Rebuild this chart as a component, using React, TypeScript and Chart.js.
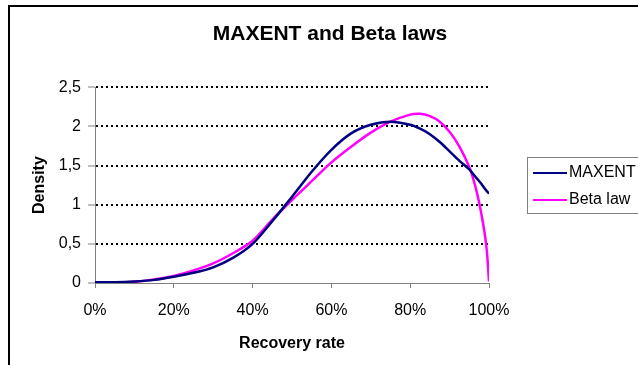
import React, { useEffect, useRef } from 'react';
import { Chart, registerables } from 'chart.js';

Chart.register(...registerables);

const chartTitle = 'MAXENT and Beta laws';
const xAxisTitle = 'Recovery rate';
const yAxisTitle = 'Density';
const seriesNames = ['MAXENT', 'Beta law'];
const seriesColors = ['#000080', '#FF00FF'];

const recoveryRate = [0, 0.05, 0.1, 0.15, 0.2, 0.25, 0.3, 0.35, 0.4, 0.45, 0.5, 0.55, 0.6, 0.65, 0.7, 0.75, 0.8, 0.825, 0.85, 0.875, 0.9, 0.925, 0.95, 0.96, 0.97, 0.98, 0.99, 0.995, 1];
const maxentDensity = [0.01, 0.01, 0.02, 0.04, 0.08, 0.13, 0.2, 0.32, 0.5, 0.79, 1.1, 1.42, 1.7, 1.91, 2.02, 2.06, 2.02, 1.97, 1.9, 1.8, 1.68, 1.56, 1.45, 1.39, 1.33, 1.27, 1.2, 1.17, 1.14];
const betaDensity = [0, 0.003, 0.015, 0.045, 0.09, 0.16, 0.25, 0.38, 0.54, 0.81, 1.06, 1.3, 1.54, 1.74, 1.92, 2.06, 2.15, 2.16, 2.13, 2.06, 1.93, 1.74, 1.48, 1.33, 1.14, 0.9, 0.6, 0.38, 0.02];

const xTickValues = [0, 0.2, 0.4, 0.6, 0.8, 1];
const xTickLabels = ['0%', '20%', '40%', '60%', '80%', '100%'];
const yTickValues = [0, 0.5, 1, 1.5, 2, 2.5];
const yTickLabels = ['0', '0,5', '1', '1,5', '2', '2,5'];

const FONT = '"Liberation Sans", Arial, sans-serif';

const boxLegend = {
  id: 'boxLegend',
  afterDraw(chart: any) {
    const ctx = chart.ctx;
    ctx.save();
    ctx.strokeStyle = '#808080';
    ctx.lineWidth = 1;
    ctx.strokeRect(527.5, 157.5, 140, 56);
    chart.data.datasets.forEach((ds: any, i: number) => {
      const y = 173 + i * 27;
      ctx.strokeStyle = ds.borderColor;
      ctx.lineWidth = 2;
      ctx.beginPath();
      ctx.moveTo(533, y);
      ctx.lineTo(567, y);
      ctx.stroke();
      ctx.fillStyle = '#000';
      ctx.font = `16px ${FONT}`;
      ctx.textAlign = 'left';
      ctx.textBaseline = 'middle';
      ctx.fillText(ds.label, 569, y);
    });
    ctx.restore();
  },
};

export default function App() {
  const canvasRef = useRef<HTMLCanvasElement | null>(null);

  useEffect(() => {
    if (!canvasRef.current) return;
    Chart.defaults.color = '#000';
    const series = [maxentDensity, betaDensity];
    const chart = new Chart(canvasRef.current, {
      type: 'line',
      data: {
        datasets: series.map((vals, si) => ({
          label: seriesNames[si],
          data: recoveryRate.map((x, i) => ({ x, y: vals[i] })),
          borderColor: seriesColors[si],
          backgroundColor: seriesColors[si],
          borderWidth: 2.5,
          pointRadius: 0,
          tension: 0.3,
          fill: false,
          yAxisID: 'y',
        })),
      },
      options: {
        responsive: false,
        animation: false,
        events: [],
        layout: { padding: { left: 0, right: 0, top: 0, bottom: 0 } },
        plugins: {
          legend: { display: false },
          tooltip: { enabled: false },
          title: {
            display: true,
            text: chartTitle,
            color: '#000',
            font: { family: FONT, size: 21, weight: 'bold', lineHeight: 1.2 },
            padding: { top: 22, bottom: 40 },
          },
        },
        scales: {
          x: {
            type: 'linear',
            min: 0,
            max: 1,
            afterBuildTicks: (s: any) => {
              s.ticks = xTickValues.map((v) => ({ value: v }));
            },
            afterFit: (s: any) => {
              s.height = 82;
            },
            ticks: {
              callback: (_v: any, i: number) => xTickLabels[i],
              color: '#000',
              font: { family: FONT, size: 16, lineHeight: 1.2 },
              padding: 13,
              maxRotation: 0,
              autoSkip: false,
            },
            grid: { drawOnChartArea: false, tickLength: 5, tickColor: '#808080', tickWidth: 1 },
            border: { color: '#808080', width: 1 },
            title: {
              display: true,
              text: xAxisTitle,
              color: '#000',
              font: { family: FONT, size: 16, weight: 'bold', lineHeight: 1.2 },
              padding: { top: 0, bottom: 12 },
            },
          },
          y: {
            type: 'linear',
            position: 'left',
            min: 0,
            max: 2.5,
            afterBuildTicks: (s: any) => {
              s.ticks = yTickValues.map((v) => ({ value: v }));
            },
            afterFit: (s: any) => {
              s.width = 95;
            },
            ticks: {
              callback: (_v: any, i: number) => yTickLabels[i],
              color: '#000',
              font: { family: FONT, size: 16, lineHeight: 1.2 },
              padding: 7,
            },
            grid: {
              color: (c: any) => (c.tick && c.tick.value === 0 ? 'rgba(0,0,0,0)' : '#000'),
              lineWidth: 2,
              tickLength: 7,
              tickColor: '#808080',
              tickWidth: 1,
            },
            border: { color: '#808080', width: 1, dash: [2, 3] },
            title: {
              display: true,
              text: yAxisTitle,
              color: '#000',
              font: { family: FONT, size: 16, weight: 'bold', lineHeight: 1.2 },
              padding: { top: 30, bottom: 0 },
            },
          },
          spacer: {
            type: 'linear',
            position: 'right',
            display: true,
            min: 0,
            max: 1,
            afterFit: (s: any) => {
              s.width = 171;
            },
            ticks: { display: false },
            grid: { display: false, drawOnChartArea: false, drawTicks: false },
            border: { display: false },
          },
        },
      } as any,
      plugins: [boxLegend],
    });
    return () => chart.destroy();
  }, []);

  return (
    <div
      style={{
        position: 'fixed',
        left: 0,
        top: 0,
        width: 638,
        height: 365,
        overflow: 'hidden',
        background: '#fff',
      }}
    >
      <div
        style={{
          position: 'absolute',
          left: 8,
          top: 5,
          width: 700,
          height: 420,
          borderLeft: '2px solid #000',
          borderTop: '2px solid #000',
        }}
      />
      <canvas
        ref={canvasRef}
        width={660}
        height={365}
        style={{ position: 'absolute', left: 0, top: 0, display: 'block' }}
      />
    </div>
  );
}
